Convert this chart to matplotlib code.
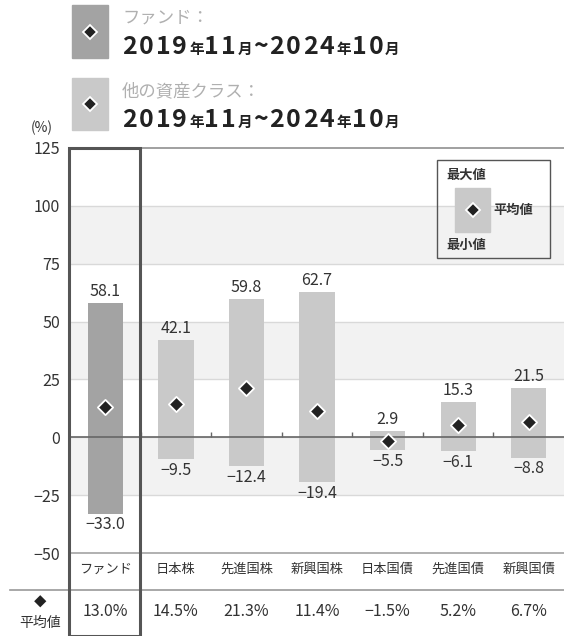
import matplotlib
matplotlib.use("Agg")
import matplotlib.pyplot as plt
from matplotlib.patches import Rectangle
from matplotlib.lines import Line2D

plt.rcParams['font.family'] = ['Noto Sans CJK JP', 'DejaVu Sans']

categories = ["ファンド", "日本株", "先進国株", "新興国株", "日本国債", "先進国債", "新興国債"]
max_vals = [58.1, 42.1, 59.8, 62.7, 2.9, 15.3, 21.5]
min_vals = [-33.0, -9.5, -12.4, -19.4, -5.5, -6.1, -8.8]
mean_vals = [13.0, 14.5, 21.3, 11.4, -1.5, 5.2, 6.7]
y_ticks = [125, 100, 75, 50, 25, 0, -25, -50]

fund_col = "#a3a3a3"
other_col = "#c9c9c9"
text_col = "#333333"

W, H = 564, 636
fig = plt.figure(figsize=(W / 100, H / 100), dpi=100)

def fx(px):
    return px / W

def fy(py):
    return 1 - py / H

ax = fig.add_axes([fx(70), fy(553), fx(564) - fx(70), fy(148) - fy(553)])
ax.set_xlim(-0.5, 6.5)
ax.set_ylim(-50, 125)

# background bands + grid
for lo, hi in [(75, 100), (25, 50), (-25, 0)]:
    ax.axhspan(lo, hi, color="#f2f2f2", zorder=0, lw=0)
for t in y_ticks[1:-1]:
    ax.axhline(t, color="#d9d9d9", lw=1.0, zorder=1)
ax.axhline(0, color="#666666", lw=1.2, zorder=3)
ax.vlines([i + 0.5 for i in range(len(categories) - 1)], 0, 2.4, color="#666666", lw=1.0, zorder=3)

for s in ["left", "right"]:
    ax.spines[s].set_visible(False)
ax.spines["top"].set_color("#999999")
ax.spines["bottom"].set_color("#aaaaaa")
ax.spines["top"].set_linewidth(1.3)
ax.spines["bottom"].set_linewidth(1.3)

ax.set_yticks(y_ticks)
ax.set_yticklabels([str(t).replace("-", "\u2212") for t in y_ticks], fontsize=11.5, color=text_col)
ax.tick_params(axis="y", length=0, pad=7)
ax.set_xticks(range(len(categories)))
ax.set_xticklabels(categories, fontsize=9.5, color=text_col)
ax.tick_params(axis="x", length=0, pad=7)

x = list(range(len(categories)))
cols = [fund_col] + [other_col] * (len(categories) - 1)
ax.bar(x, [mx - mn for mx, mn in zip(max_vals, min_vals)], bottom=min_vals,
       width=0.5, color=cols, zorder=2)
ax.scatter(x, mean_vals, marker="D", s=60, color="#222222", edgecolors="white",
           linewidths=1.3, zorder=4)

for i, (mx, mn) in enumerate(zip(max_vals, min_vals)):
    ax.annotate(f"{mx:.1f}", (i, mx), xytext=(0, 2), textcoords="offset points",
                ha="center", va="bottom", fontsize=11.5, color=text_col)
    ax.annotate(f"{mn:.1f}".replace("-", "\u2212"), (i, mn), xytext=(0, -2),
                textcoords="offset points", ha="center", va="top", fontsize=11.5, color=text_col)

# fund highlight box
fig.add_artist(Rectangle((fx(69), 0), fx(140) - fx(69), fy(148), fill=False,
                         ec="#555555", lw=2.2, transform=fig.transFigure, zorder=6))

# average row
fig.add_artist(Line2D([fx(10), 1], [fy(590), fy(590)], color="#999999", lw=1.2))
fig.text(fx(40), fy(603), "◆", ha="center", va="center", fontsize=9, color="#222222")
fig.text(fx(40), fy(623), "平均値", ha="center", va="center", fontsize=10, color=text_col)
for i, m in enumerate(mean_vals):
    xd = ax.transData.transform((i, 0))[0] / W
    fig.text(xd, fy(612), f"{m:.1f}%".replace("-", "\u2212"), ha="center", va="center",
             fontsize=11.5, color=text_col)

fig.text(fx(42), fy(128), "(%)", ha="center", va="center", fontsize=10, color=text_col)

# top legend
renderer = fig.canvas.get_renderer()

def date_text(px, py):
    pieces = ["2019", "年", "11", "月", "~", "2024", "年", "10", "月"]
    cur = fx(px)
    for s in pieces:
        small = s in ("年", "月")
        for ch in s:
            t = fig.text(cur, fy(py), ch, ha="left", va="baseline",
                         fontsize=10.5 if small else 18, fontweight="bold", color="#222222")
            bb = t.get_window_extent(renderer=renderer)
            cur += (bb.width + (0.5 if small else 2.0)) / W

legend_rows = [("ファンド：", fund_col, 5, 58), ("他の資産クラス：", other_col, 78, 130)]
for label, col, y0, y1 in legend_rows:
    fig.add_artist(Rectangle((fx(72), fy(y1)), fx(108) - fx(72), fy(y0) - fy(y1),
                             color=col, transform=fig.transFigure))
    fig.add_artist(Line2D([fx(90)], [fy((y0 + y1) / 2)], marker="D", markersize=7,
                          color="#222222", markeredgecolor="white", markeredgewidth=1.3,
                          transform=fig.transFigure))
    fig.text(fx(122), fy(y0 + 13), label, ha="left", va="center", fontsize=12.5, color="#b0b0b0")
    date_text(122, y0 + 49)

# inset legend
fig.add_artist(Rectangle((fx(437), fy(258)), fx(550) - fx(437), fy(160) - fy(258),
                         fill=False, ec="#555555", lw=1.0, transform=fig.transFigure, zorder=6))
fig.add_artist(Rectangle((fx(455), fy(232)), fx(490) - fx(455), fy(188) - fy(232),
                         color=other_col, transform=fig.transFigure, zorder=6))
fig.add_artist(Line2D([fx(473)], [fy(210)], marker="D", markersize=7, color="#222222",
                      markeredgecolor="white", markeredgewidth=1.3,
                      transform=fig.transFigure, zorder=7))
fig.text(fx(446), fy(175), "最大値", ha="left", va="center", fontsize=9.5,
         fontweight="bold", color=text_col, zorder=7)
fig.text(fx(446), fy(245), "最小値", ha="left", va="center", fontsize=9.5,
         fontweight="bold", color=text_col, zorder=7)
fig.text(fx(493), fy(210), "平均値", ha="left", va="center", fontsize=9.5,
         fontweight="bold", color=text_col, zorder=7)

fig.savefig("out.png", dpi=100)
